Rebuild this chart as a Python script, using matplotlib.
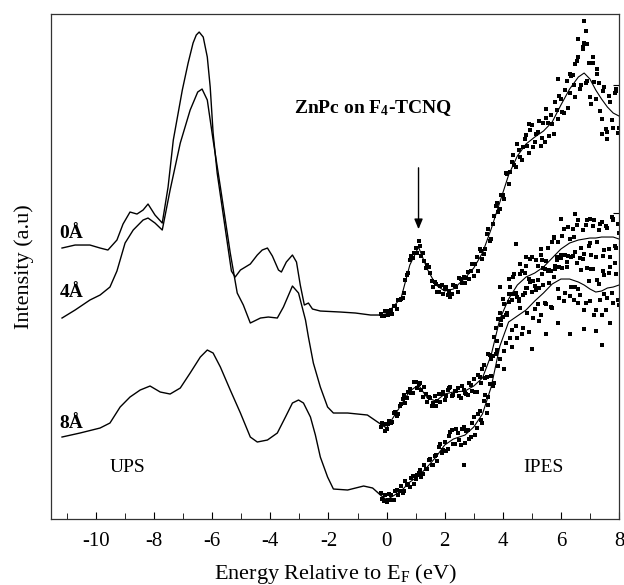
import matplotlib
matplotlib.use("Agg")
import matplotlib.pyplot as plt

plt.rcParams['font.family'] = ['Liberation Serif', 'DejaVu Serif']
plt.rcParams['mathtext.fontset'] = 'custom'
plt.rcParams['mathtext.rm'] = 'Liberation Serif'
plt.rcParams['mathtext.bf'] = 'Liberation Serif:bold'
plt.rcParams['mathtext.it'] = 'Liberation Serif:italic'
plt.rcParams['axes.unicode_minus'] = False

# UPS spectra (energy in eV, intensity in arbitrary units)
ups_0_e = [-11.17, -10.72, -10.21, -9.86, -9.59, -9.28, -9.07, -8.83, -8.59, -8.38, -8.21, -7.97,
           -7.72, -7.52, -7.34, -7.03, -6.83, -6.66, -6.55, -6.45, -6.31, -6.17, -6.07, -5.97,
           -5.83, -5.66, -5.48, -5.34, -5.21, -5.03, -4.69, -4.45, -4.28, -4.10, -3.93, -3.72,
           -3.62, -3.45, -3.24, -3.10, -2.97, -2.83, -2.69, -2.55, -2.28, -1.59, -1.07, -0.55,
           -0.21, 0.0]
ups_0_i = [271, 274, 274, 271, 269, 279, 295, 307, 305, 309, 315, 304,
           296, 332, 379, 429, 456, 476, 484, 487, 482, 462, 432, 386,
           346, 312, 276, 248, 242, 249, 255, 264, 269, 271, 263, 249,
           247, 257, 264, 257, 234, 214, 216, 210, 208, 207, 206, 204,
           204, 205]

ups_4_e = [-11.17, -10.72, -10.21, -9.86, -9.52, -9.28, -9.0, -8.72, -8.38, -8.21, -7.97, -7.72,
           -7.45, -7.10, -6.76, -6.50, -6.35, -6.17, -5.97, -5.72, -5.38, -5.14, -4.93, -4.69,
           -4.34, -4.07, -3.76, -3.55, -3.24, -3.03, -2.79, -2.69, -2.52, -2.28, -2.03, -1.83,
           -1.34, -0.66, -0.31, 0.0]
ups_4_i = [201, 209, 219, 224, 232, 248, 276, 289, 299, 301, 296, 289,
           329, 376, 409, 427, 430, 419, 379, 332, 266, 226, 214, 196,
           201, 202, 201, 212, 233, 226, 199, 182, 156, 132, 112, 106,
           106, 104, 97, 91]

ups_8_e = [-11.17, -10.55, -9.86, -9.52, -9.17, -8.83, -8.48, -8.14, -7.79, -7.45, -7.10, -6.76,
           -6.41, -6.17, -5.97, -5.72, -5.38, -5.03, -4.69, -4.45, -4.10, -3.76, -3.48, -3.24,
           -3.03, -2.86, -2.62, -2.45, -2.28, -2.03, -1.83, -1.34, -0.79, -0.48, -0.21, 0.0]
ups_8_i = [82, 86, 91, 96, 112, 122, 129, 133, 127, 125, 131, 146,
           162, 169, 166, 152, 129, 106, 82, 77, 79, 86, 102, 116,
           119, 116, 102, 84, 62, 42, 30, 29, 33, 31, 24, 19]

# IPES fitted lines
fit_e = [0.0, 0.5, 0.8, 1.1, 1.4, 1.7, 2.0, 2.3, 2.7, 3.0, 3.3, 3.6, 3.9, 4.2, 4.5, 4.8,
         5.1, 5.4, 5.7, 6.0, 6.3, 6.6, 6.8, 7.0, 7.2, 7.4, 7.6, 7.8, 8.0]
fit_0_i = [205, 221, 254, 272, 250, 234, 228, 230, 241, 251, 266, 290, 317, 344, 363, 375,
           382, 388, 397, 414, 430, 442, 446, 440, 429, 420, 412, 406, 403]
fit_4_i = [91, 114, 128, 134, 121, 118, 125, 127, 128, 133, 141, 164, 200, 220, 234, 242,
           246, 252, 261, 270, 276, 279, 280, 281, 281, 282, 282, 282, 280]
fit_8_i = [19, 28, 37, 43, 52, 62, 74, 80, 84, 92, 105, 132, 173, 197, 203, 209,
           218, 226, 235, 240, 240, 237, 234, 230, 227, 228, 231, 232, 234]

# IPES data points, two interleaved sweeps
pts_e = [-0.2, -0.1, 0.0, 0.1, 0.2, 0.3, 0.4, 0.5, 0.6, 0.7, 0.8, 0.9, 1.0, 1.1, 1.2, 1.3,
         1.4, 1.5, 1.6, 1.7, 1.8, 1.9, 2.0, 2.1, 2.2, 2.3, 2.4, 2.5, 2.6, 2.7, 2.8, 2.9,
         3.0, 3.1, 3.2, 3.3, 3.4, 3.5, 3.6, 3.7, 3.8, 3.9, 4.0, 4.1, 4.2, 4.3, 4.4, 4.5,
         4.6, 4.7, 4.8, 4.9, 5.0, 5.1, 5.2, 5.3, 5.4, 5.5, 5.6, 5.7, 5.8, 5.9, 6.0, 6.1,
         6.2, 6.3, 6.4, 6.5, 6.6, 6.7, 6.8, 6.9, 7.0, 7.1, 7.2, 7.3, 7.4, 7.5, 7.6, 7.7,
         7.8, 7.9, 8.0]
pts_e2 = [-0.15, -0.05, 0.05, 0.15, 0.25, 0.35, 0.45, 0.55, 0.65, 0.75, 0.85, 0.95, 1.05, 1.15,
          1.25, 1.35, 1.45, 1.55, 1.65, 1.75, 1.85, 1.95, 2.05, 2.15, 2.25, 2.35, 2.45, 2.55,
          2.65, 2.75, 2.85, 2.95, 3.05, 3.15, 3.25, 3.35, 3.45, 3.55, 3.65, 3.75, 3.85, 3.95,
          4.05, 4.15, 4.25, 4.35, 4.45, 4.55, 4.65, 4.75, 4.85, 4.95, 5.05, 5.15, 5.25, 5.35,
          5.45, 5.55, 5.65, 5.75, 5.85, 5.95, 6.05, 6.15, 6.25, 6.35, 6.45, 6.55, 6.65, 6.75,
          6.85, 6.95, 7.05, 7.15, 7.25, 7.35, 7.45, 7.55, 7.65, 7.75, 7.85, 7.95]

pts_0_i = [205, 203, 208, 206, 205, 213, 219, 220, 226, 244, 259, 261, 271, 278, 263, 258,
           254, 246, 232, 235, 227, 234, 230, 224, 222, 234, 232, 241, 236, 236, 247, 248,
           243, 262, 270, 260, 270, 290, 280, 303, 316, 310, 324, 346, 335, 357, 354, 375,
           362, 372, 384, 366, 394, 377, 387, 373, 396, 401, 383, 395, 417, 400, 420, 406,
           438, 426, 444, 422, 462, 434, 476, 438, 422, 456, 420, 436, 400, 432, 387, 417,
           391, 428, 391]
pts_0_i2 = [203, 208, 204, 209, 213, 210, 219, 221, 239, 246, 263, 266, 266, 273, 266, 251,
            252, 238, 237, 227, 233, 225, 232, 228, 225, 233, 227, 240, 242, 241, 240, 255,
            255, 248, 268, 265, 285, 278, 295, 313, 307, 324, 320, 345, 347, 364, 352, 369,
            359, 380, 373, 389, 372, 385, 398, 381, 377, 396, 404, 385, 409, 423, 407, 429,
            411, 443, 434, 458, 430, 470, 436, 456, 415, 437, 445, 408, 428, 390, 423, 399,
            426, 386]

pts_4_i = [92, 95, 90, 98, 97, 107, 105, 115, 124, 121, 130, 126, 137, 135, 129, 132,
           117, 121, 116, 113, 125, 125, 119, 129, 132, 124, 128, 123, 133, 126, 124, 134,
           140, 127, 142, 150, 141, 165, 160, 182, 178, 206, 220, 204, 225, 219, 245, 222,
           245, 224, 253, 240, 262, 233, 253, 264, 234, 258, 249, 277, 250, 277, 264, 290,
           257, 280, 290, 267, 299, 271, 265, 299, 276, 293, 262, 289, 297, 269, 291, 262,
           299, 271, 286]
pts_4_i2 = [96, 88, 95, 96, 106, 103, 113, 120, 116, 127, 126, 137, 131, 136, 122, 125,
            122, 113, 123, 118, 117, 127, 123, 131, 123, 128, 131, 121, 129, 125, 136, 128,
            127, 144, 136, 154, 142, 164, 163, 191, 200, 194, 215, 204, 232, 242, 226, 220,
            248, 246, 231, 260, 238, 259, 231, 259, 250, 271, 248, 281, 259, 252, 283, 264,
            292, 262, 282, 294, 261, 289, 294, 273, 264, 299, 277, 295, 263, 293, 270, 302,
            273, 295]

pts_8_i = [26, 18, 17, 25, 19, 28, 24, 33, 28, 35, 32, 43, 40, 46, 42, 54,
           50, 60, 54, 64, 72, 66, 77, 70, 87, 75, 90, 79, 90, 76, 89, 82,
           102, 91, 108, 96, 124, 114, 143, 136, 169, 160, 202, 176, 217, 189, 225, 181,
           211, 191, 231, 187, 227, 210, 239, 204, 251, 215, 236, 211, 253, 230, 261, 218,
           252, 223, 263, 232, 216, 249, 209, 251, 218, 250, 209, 235, 204, 244, 221, 252,
           216, 245, 214]
pts_8_i2 = [20, 24, 19, 24, 19, 29, 28, 26, 38, 34, 41, 35, 44, 49, 45, 50,
            59, 54, 63, 58, 75, 69, 68, 83, 89, 75, 86, 74, 92, 88, 80, 96,
            84, 105, 99, 118, 106, 135, 133, 165, 153, 199, 168, 206, 181, 225, 193, 218,
            185, 226, 206, 237, 201, 229, 198, 245, 216, 248, 212, 242, 262, 221, 251, 226,
            263, 232, 219, 256, 224, 260, 216, 238, 250, 204, 239, 219, 248, 209, 246, 226,
            256, 219]

# scattered points away from the main clouds
out_0_e = [6.6, 6.75, 6.9, 7.1, 6.5, 7.4, 7.6, 5.9, 7.9, 6.3, 5.5, 4.9, 6.85, 7.25, 6.78]
out_0_i = [480, 472, 475, 462, 455, 385, 380, 440, 430, 445, 410, 395, 488, 450, 498]
out_48_e = [4.3, 5.0, 5.9, 7.4, 7.7, 6.3, 6.8, 7.2, 5.5, 2.66, 3.48, 4.2, 4.8, 5.3, 6.0,
            7.0, 7.8, 6.5, 4.6, 5.2, 6.6, 7.5, 3.9, 4.05, 4.45, 5.75]
out_48_i = [172, 170, 196, 174, 196, 185, 190, 188, 185, 54, 122, 240, 262, 270, 300,
            300, 300, 305, 255, 215, 230, 225, 232, 150, 275, 282]

fig = plt.figure(figsize=(6.24, 5.85), dpi=100)
ax = fig.add_axes([0.0817, 0.1128, 0.9103, 0.8632])

for e, i in [(ups_0_e, ups_0_i), (ups_4_e, ups_4_i), (ups_8_e, ups_8_i)]:
    ax.plot(e, i, color='black', lw=1.0)
for i in [fit_0_i, fit_4_i, fit_8_i]:
    ax.plot(fit_e, i, color='black', lw=0.8)
for i in [pts_0_i, pts_4_i, pts_8_i]:
    ax.plot(pts_e, i, 's', color='black', ms=3.4, mew=0)
for i in [pts_0_i2, pts_4_i2, pts_8_i2]:
    ax.plot(pts_e2, i, 's', color='black', ms=3.4, mew=0)
ax.plot(out_0_e, out_0_i, 's', color='black', ms=3.4, mew=0)
ax.plot(out_48_e, out_48_i, 's', color='black', ms=3.4, mew=0)

ax.annotate('', xy=(1.1, 287), xytext=(1.1, 354),
            arrowprops=dict(arrowstyle='-|>,head_width=0.25,head_length=0.6', color='black', lw=1.0))

ax.text(-3.2, 411, r'ZnPc on F$_{\mathbf{4}}$-TCNQ', fontsize=14, fontweight='bold', va='center')
ax.text(-11.25, 286, '0Å', fontsize=14, fontweight='bold', va='center')
ax.text(-11.25, 227, '4Å', fontsize=14, fontweight='bold', va='center')
ax.text(-11.25, 96, '8Å', fontsize=14, fontweight='bold', va='center')
ax.text(-9.52, 52, 'UPS', fontsize=14, va='center')
ax.text(4.72, 52, 'IPES', fontsize=14, va='center')

ax.set_xlim(-11.55, 8)
ax.set_ylim(0, 505)
ax.set_xticks([-10, -8, -6, -4, -2, 0, 2, 4, 6, 8])
ax.set_xticks([-11, -9, -7, -5, -3, -1, 1, 3, 5, 7], minor=True)
ax.set_yticks([306, 434])
ax.tick_params(axis='x', which='both', direction='in', labelsize=15, pad=9)
ax.tick_params(axis='x', which='major', length=5)
ax.tick_params(axis='x', which='minor', length=4)
ax.tick_params(axis='y', direction='in', left=False, right=True, labelleft=False, length=4)
for s in ax.spines.values():
    s.set_linewidth(0.9)
    s.set_color('#333333')

ax.set_xlabel(r'Energy Relative to E$_{\mathrm{F}}$ (eV)', fontsize=16, labelpad=8)
ax.set_ylabel('Intensity (a.u)', fontsize=16, labelpad=12)

fig.savefig('out.png', dpi=100)
